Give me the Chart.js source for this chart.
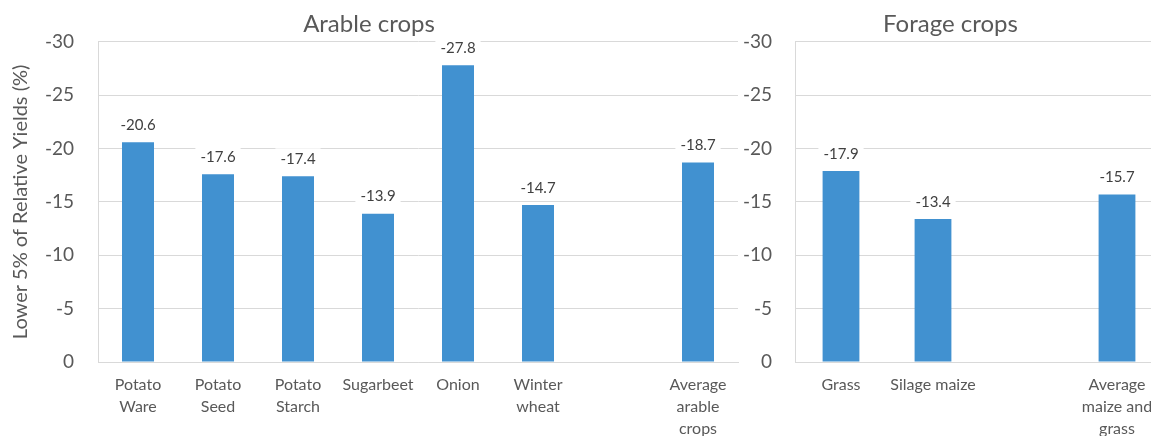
<!DOCTYPE html>
<html>
<head>
<meta charset="utf-8">
<script src="https://cdn.jsdelivr.net/npm/chart.js@4"></script>
<style>
  html, body { margin: 0; padding: 0; background: #fff; width: 1151px; height: 436px; overflow: hidden; }
  #wrapL { position: absolute; left: 0; top: 0; width: 754px; height: 436px; }
  #wrapR { position: absolute; left: 738px; top: 0; width: 430px; height: 436px; }
</style>
</head>
<body>
<div id="wrapL"><canvas id="cL" width="754" height="436"></canvas></div>
<div id="wrapR"><canvas id="cR" width="430" height="436"></canvas></div>
<script>
// ---- data ----
const arableCategories = [["Potato","Ware"], ["Potato","Seed"], ["Potato","Starch"], "Sugarbeet", "Onion", ["Winter","wheat"], "", ["Average","arable","crops"]];
const arableValues = [-20.6, -17.6, -17.4, -13.9, -27.8, -14.7, null, -18.7];
const forageCategories = ["Grass", "Silage maize", "", ["Average","maize and","grass"]];
const forageValues = [-17.9, -13.4, null, -15.7];
const yTickMin = -30;
const yTickMax = 0;
const yTickStep = 5;
const arableTitle = "Arable crops";
const forageTitle = "Forage crops";
const yAxisTitle = "Lower 5% of Relative Yields (%)";

Chart.defaults.font.family = "Lato, 'Open Sans', sans-serif";
Chart.defaults.color = "#595959";

const TEXT = "#595959";
const GRID = "#d9d9d9";
const BAR = "#4191d0";

const labelPlugin = {
  id: "barLabels",
  afterDatasetsDraw(chart) {
    const ctx = chart.ctx;
    const meta = chart.getDatasetMeta(0);
    const data = chart.data.datasets[0].data;
    ctx.save();
    ctx.font = "15px Lato, 'Open Sans', sans-serif";
    ctx.textAlign = "center";
    ctx.textBaseline = "middle";
    meta.data.forEach((bar, i) => {
      const v = data[i];
      if (v === null || v === undefined) return;
      const txt = v.toFixed(1);
      const w = ctx.measureText(txt).width + 10;
      const cx = bar.x, cy = bar.y - 18;
      ctx.fillStyle = "#ffffff";
      ctx.fillRect(cx - w / 2, cy - 10, w, 20);
      ctx.fillStyle = "#404040";
      ctx.fillText(txt, cx, cy + 1);
    });
    ctx.restore();
  }
};

function makeChart(canvasId, cats, vals, title, opts) {
  return new Chart(document.getElementById(canvasId), {
    type: "bar",
    data: {
      labels: cats,
      datasets: [{
        data: vals,
        backgroundColor: BAR,
        borderWidth: 0,
        barPercentage: 0.4,
        categoryPercentage: 1.0
      }]
    },
    options: {
      responsive: false,
      animation: false,
      layout: { padding: { left: opts.padLeft, right: opts.padRight, top: 0, bottom: 0 } },
      plugins: {
        legend: { display: false },
        tooltip: { enabled: false },
        title: {
          display: true,
          text: title,
          color: TEXT,
          font: { size: 24, weight: "normal" },
          padding: { top: 10, bottom: 3 }
        }
      },
      scales: {
        x: {
          grid: { display: false, drawTicks: false },
          border: { display: true, color: GRID, width: 1 },
          ticks: {
            color: TEXT,
            font: { size: 16, lineHeight: 1.375 },
            padding: 12,
            autoSkip: false,
            maxRotation: 0,
            minRotation: 0
          },
          afterFit: s => { s.height = 74; }
        },
        y: {
          min: yTickMin,
          max: yTickMax,
          reverse: true,
          grid: { color: GRID, lineWidth: 1, drawTicks: false },
          border: { display: true, color: GRID, width: 1 },
          ticks: {
            stepSize: yTickStep,
            color: TEXT,
            font: { size: 19 },
            padding: opts.tickPad
          },
          title: opts.yTitle ? {
            display: true,
            text: yAxisTitle,
            color: TEXT,
            font: { size: 20 },
            padding: { top: 9, bottom: 0 }
          } : { display: false },
          afterFit: s => { s.width = opts.yWidth; }
        }
      }
    },
    plugins: [labelPlugin]
  });
}

makeChart("cL", arableCategories, arableValues, arableTitle,
  { padLeft: 0, padRight: 16, yWidth: 98, tickPad: 24, yTitle: true });
makeChart("cR", forageCategories, forageValues, forageTitle,
  { padLeft: 0, padRight: 5, yWidth: 57, tickPad: 23, yTitle: false });
</script>
</body>
</html>
